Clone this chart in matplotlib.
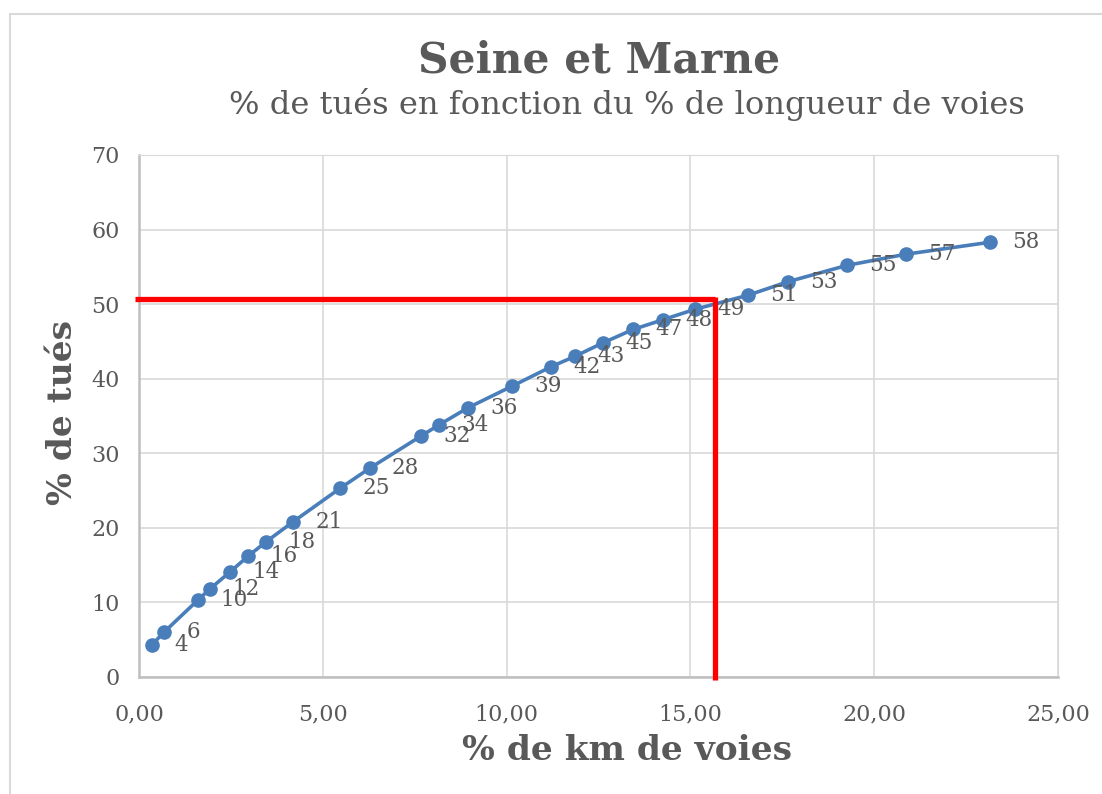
import matplotlib
matplotlib.use("Agg")
import matplotlib.pyplot as plt
from matplotlib.patches import Rectangle

# % de km de voies / % de tués
km_voies = [0.35, 0.68, 1.60, 1.93, 2.48, 2.97, 3.45, 4.19, 5.47, 6.28, 7.67, 8.16, 8.95,
            10.15, 11.21, 11.86, 12.62, 13.44, 14.25, 15.12, 16.57, 17.65, 19.26, 20.87, 23.15]
tues = [4.3, 6.0, 10.3, 11.8, 14.1, 16.2, 18.1, 20.8, 25.3, 28.0, 32.3, 33.8, 36.1,
        39.0, 41.6, 43.0, 44.8, 46.6, 47.9, 49.3, 51.2, 53.0, 55.2, 56.7, 58.3]
etiquettes = ["4", "6", "10", "12", "14", "16", "18", "21", "25", "28", "32", "34", "36",
              "39", "42", "43", "45", "47", "48", "49", "51", "53", "55", "57", "58"]

# repere rouge
repere_x = 15.67
repere_y = 50.7

x_ticks = [0, 5, 10, 15, 20, 25]
x_tick_labels = ["0,00", "5,00", "10,00", "15,00", "20,00", "25,00"]
y_ticks = [0, 10, 20, 30, 40, 50, 60, 70]

grey_txt = "#595959"
blue = "#4a7ebb"

plt.rcParams['font.family'] = ['DejaVu Serif']

fig = plt.figure(figsize=(11.02, 7.94), dpi=100)
ax = fig.add_axes([0.1261, 0.1474, 0.834, 0.6574])

# cadre du graphique
fig.patches.append(Rectangle((10 / 1102, -0.01), 1.0, 1 - 14 / 794 + 0.01, transform=fig.transFigure,
                             fill=False, edgecolor="#d9d9d9", linewidth=1.5))

ax.plot(km_voies, tues, color=blue, linewidth=2.6, marker="o", markersize=9.5, zorder=3)
for x, y, t in zip(km_voies, tues, etiquettes):
    ax.annotate(t, (x, y), xytext=(16, 0), textcoords="offset points",
                ha="left", va="center", fontsize=15.5, color=grey_txt, zorder=4)

ax.plot([-0.12, repere_x], [repere_y, repere_y], color="#ff0000", linewidth=3.8,
        clip_on=False, zorder=5, solid_capstyle="butt")
ax.plot([repere_x, repere_x], [repere_y + 0.25, -0.4], color="#ff0000", linewidth=3.8,
        clip_on=False, zorder=5, solid_capstyle="butt")

ax.set_xlim(0, 25)
ax.set_ylim(0, 70)
ax.set_xticks(x_ticks)
ax.set_xticklabels(x_tick_labels)
ax.set_yticks(y_ticks)
ax.grid(True, color="#d9d9d9", linewidth=1.2)
ax.set_axisbelow(True)
for s in ["top", "right"]:
    ax.spines[s].set_color("#d9d9d9")
for s in ["left", "bottom"]:
    ax.spines[s].set_color("#bfbfbf")
    ax.spines[s].set_linewidth(1.8)
ax.tick_params(length=0, labelsize=16, colors=grey_txt)
ax.tick_params(axis="x", pad=19)
ax.tick_params(axis="y", pad=14)

fig.text(0.569, 0.0554, "% de km de voies", fontsize=24.8, fontweight="bold", color=grey_txt,
         ha="center", va="center")
fig.text(0.0563, 0.48, "% de tués", fontsize=24.8, fontweight="bold", color=grey_txt,
         ha="center", va="center", rotation=90)

fig.text(0.5435, 0.9244, "Seine et Marne", fontsize=30.5, fontweight="bold", color=grey_txt,
         ha="center", va="center")
fig.text(0.569, 0.869, "% de tués en fonction du % de longueur de voies", fontsize=23.1,
         color=grey_txt, ha="center", va="center")

fig.savefig("out.png", dpi=100)
